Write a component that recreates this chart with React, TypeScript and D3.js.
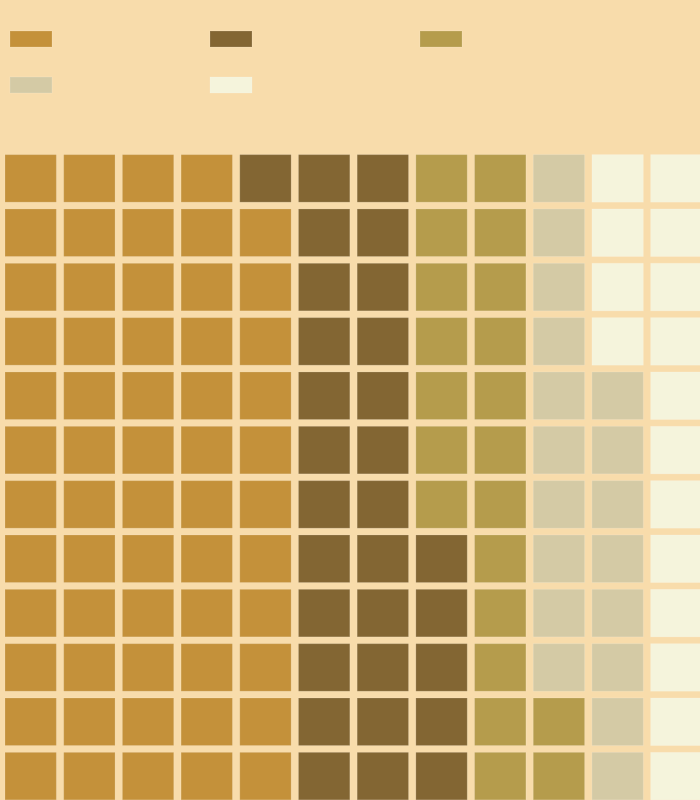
import React, { useEffect, useRef } from "react";
import * as d3 from "d3";

// waffle data: 144 cells (12 x 12), filled column by column from the bottom
const categories = ["A", "B", "C", "D", "E"];
const counts = [59, 30, 21, 18, 16];
const colors = ["#C4913A", "#836633", "#B59C4C", "#D4CAA5", "#F5F4DC"];

const width = 700;
const height = 800;
const nCols = 12;
const nRows = 12;
const bg = "#F8DCAB";

// legend column offsets (layout only)
const legendX = [10, 210, 420];

export default function App() {
  const ref = useRef<SVGSVGElement>(null);

  useEffect(() => {
    const svg = d3.select(ref.current);
    svg.selectAll("*").remove();

    svg.append("rect").attr("width", width).attr("height", height).attr("fill", bg);

    // expand counts into a flat list of cells
    const cells: { cat: number; col: number; row: number }[] = [];
    let idx = 0;
    counts.forEach((c, ci) => {
      for (let k = 0; k < c; k++) {
        const col = Math.floor(idx / nRows);
        const row = nRows - 1 - (idx % nRows);
        cells.push({ cat: ci, col, row });
        idx++;
      }
    });

    const x = d3
      .scaleBand<number>()
      .domain(d3.range(nCols))
      .range([0, 707])
      .paddingInner(0.125)
      .paddingOuter(0.085);

    const y = d3
      .scaleBand<number>()
      .domain(d3.range(nRows))
      .range([150, 804.5])
      .paddingInner(0.125)
      .paddingOuter(0.085);

    const color = d3.scaleOrdinal<number, string>().domain(d3.range(categories.length)).range(colors);

    svg
      .append("g")
      .selectAll("rect")
      .data(cells)
      .join("rect")
      .attr("x", (d) => x(d.col)!)
      .attr("y", (d) => y(d.row)!)
      .attr("width", x.bandwidth())
      .attr("height", y.bandwidth())
      .attr("fill", (d) => color(d.cat))
      .attr("stroke", "#ffffff")
      .attr("stroke-opacity", 0.15)
      .attr("stroke-width", 1);

    // legend (swatches only)
    const legend = svg
      .append("g")
      .selectAll("g")
      .data(categories)
      .join("g")
      .attr("transform", (_, i) => `translate(${legendX[i % 3]}, ${31 + Math.floor(i / 3) * 46})`);

    legend
      .append("rect")
      .attr("width", 42)
      .attr("height", 16)
      .attr("fill", (_, i) => color(i))
      .attr("stroke", "#ffffff")
      .attr("stroke-opacity", 0.15);
  }, []);

  return (
    <svg
      ref={ref}
      width={width}
      height={height}
      style={{ position: "absolute", left: 0, top: 0, display: "block" }}
    />
  );
}
